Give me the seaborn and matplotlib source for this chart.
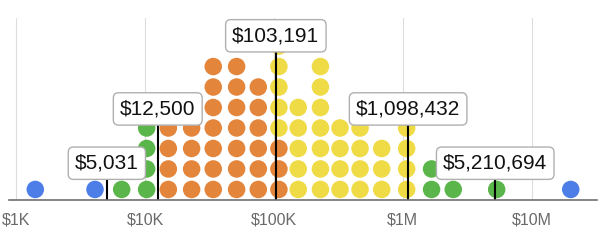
import matplotlib
matplotlib.use("Agg")
import matplotlib.pyplot as plt
import seaborn as sns
import pandas as pd

# ---- data ----
col_values = [1400, 4070, 6560, 10250, 15100, 22900, 33700, 51200, 75400,
              109000, 154000, 229000, 325000, 465000, 685000, 1070000,
              1670000, 2460000, 5350000, 20100000]
blue_counts   = [1, 1, 0, 0, 0, 0, 0, 0, 0, 0, 0, 0, 0, 0, 0, 0, 0, 0, 0, 1]
green_counts  = [0, 0, 1, 4, 0, 0, 0, 0, 0, 0, 0, 0, 0, 0, 0, 0, 2, 1, 1, 0]
orange_counts = [0, 0, 0, 0, 4, 4, 7, 7, 6, 3, 0, 0, 0, 0, 0, 0, 0, 0, 0, 0]
yellow_counts = [0, 0, 0, 0, 0, 0, 0, 0, 0, 5, 5, 7, 4, 4, 3, 4, 0, 0, 0, 0]

marker_values = [5031, 12500, 103191, 1098432, 5210694]
marker_labels = ["$5,031", "$12,500", "$103,191", "$1,098,432", "$5,210,694"]
marker_heights = [1.28, 3.93, 7.5, 3.93, 1.28]

tick_values = [1e3, 1e4, 1e5, 1e6, 1e7]
tick_labels = ["$1K", "$10K", "$100K", "$1M", "$10M"]

bands = ["blue", "green", "orange", "yellow"]
palette = {"blue": "#4d7ee8", "green": "#5ab54b",
           "orange": "#e4853c", "yellow": "#efdb45"}

# ---- build dot table ----
rows = []
for i, v in enumerate(col_values):
    k = 0
    for band, counts in zip(bands, [blue_counts, green_counts, orange_counts, yellow_counts]):
        for _ in range(counts[i]):
            rows.append({"value": v, "row": k, "band": band})
            k += 1
df = pd.DataFrame(rows)

sns.set_theme(style="white")
plt.rcParams["font.family"] = ["Liberation Sans", "DejaVu Sans"]

fig = plt.figure(figsize=(6.0, 2.48), dpi=100)
ax = fig.add_axes([0.015, 0.1948, 0.98, 0.7327])

ax.set_xscale("log")
sns.scatterplot(data=df, x="value", y="row", hue="band", palette=palette,
                s=159, linewidth=0, legend=False, ax=ax, zorder=3)

ax.set_xlim(875, 32140000)
ax.set_ylim(-0.5, 8.37)

# gridlines
for t in tick_values:
    ax.axvline(t, color="#dddddd", lw=0.8, zorder=1)

# percentile markers
for v, lab, h in zip(marker_values, marker_labels, marker_heights):
    ax.plot([v, v], [-0.5, h], color="black", lw=1.5, zorder=4,
            solid_capstyle="butt")
    ax.text(v, h, lab.replace("$", r"\$"), ha="center", va="center",
            fontsize=15, color="#111111", zorder=6,
            bbox=dict(boxstyle="round,pad=0.32,rounding_size=0.25",
                      fc="white", ec="#b0b0b0", lw=1.0))

ax.set_xticks(tick_values)
ax.set_xticklabels([t.replace("$", r"\$") for t in tick_labels])
ax.minorticks_off()
ax.tick_params(axis="x", length=0, pad=9, labelsize=11.5, labelcolor="#6a6a6a")
ax.set_yticks([])
ax.set_xlabel("")
ax.set_ylabel("")
for s in ["top", "left", "right"]:
    ax.spines[s].set_visible(False)
ax.spines["bottom"].set_color("#6f6f6f")
ax.spines["bottom"].set_linewidth(1.2)
ax.spines["bottom"].set_zorder(5)

fig.savefig("out.png", dpi=100)
